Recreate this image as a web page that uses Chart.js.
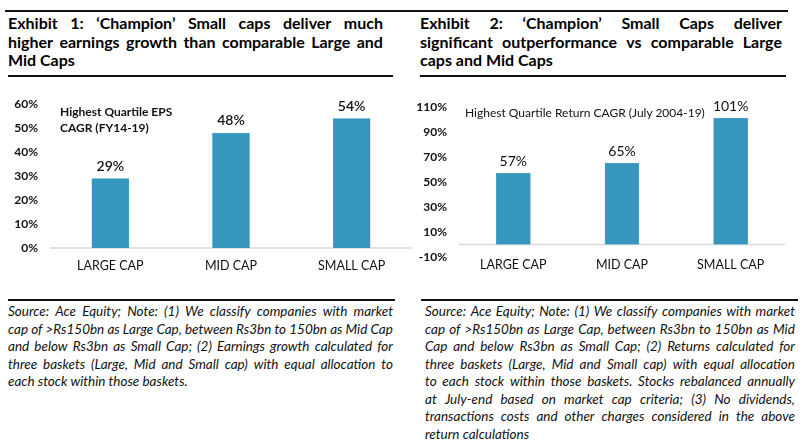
<!DOCTYPE html>
<html>
<head>
<meta charset="utf-8">
<script src="https://cdn.jsdelivr.net/npm/chart.js@4.4.1/dist/chart.umd.min.js"></script>
<style>
  html, body { margin: 0; padding: 0; background: #fff; }
  body { width: 806px; height: 445px; position: relative; overflow: hidden; font-family: Lato, 'Noto Sans', sans-serif; color: #111; }
  .abs { position: absolute; }
  .rule { position: absolute; background: #111; height: 1.5px; }
  .title { font-weight: bold; font-size: 16px; line-height: 18.5px; color: #000; }
  .note { font-style: italic; font-size: 13.5px; line-height: 17.5px; color: #111; }
  .line { display: flex; justify-content: space-between; white-space: pre; }
  .line.last { justify-content: flex-start; }
  .box { position: absolute; }
  .tag { position: absolute; font-size: 12px; line-height: 16px; color: #111; white-space: nowrap; }
</style>
</head>
<body>
<div class="rule" style="left:5px; top:10px; width:783px;"></div>
<div class="rule" style="left:8px; top:75px; width:385px;"></div>
<div class="rule" style="left:420px; top:75px; width:366px;"></div>
<div class="rule" style="left:8px; top:299px; width:387px;"></div>
<div class="rule" style="left:421px; top:299px; width:377px;"></div>

<div id="title1" class="abs title" style="left:8px; top:14px; width:375px;"></div>
<div id="title2" class="abs title" style="left:420px; top:14px; width:362px;"></div>
<div id="note1" class="abs note" style="left:8px; top:303px; width:385px;"></div>
<div id="note2" class="abs note" style="left:425px; top:303px; width:370px;"></div>

<div class="box" style="left:0; top:85px; width:412px; height:195px;"><canvas id="epsChart"></canvas></div>
<div class="box" style="left:403px; top:85px; width:382px; height:195px;"><canvas id="retChart"></canvas></div>

<div class="tag" style="left:60px; top:104px; font-weight:bold;">Highest Quartile EPS<br>CAGR (FY14-19)</div>
<div class="tag" style="left:465px; top:105px;">Highest Quartile Return CAGR (July 2004-19)</div>

<script>
const categories = ['LARGE CAP', 'MID CAP', 'SMALL CAP'];
const epsCagr = [29, 48, 54];
const returnCagr = [57, 65, 101];
const epsAxis = { min: 0, max: 60, step: 10 };
const returnAxis = { min: -10, max: 110, step: 20 };

const title1Lines = [
  'Exhibit 1: \u2018Champion\u2019 Small caps deliver much',
  'higher earnings growth than comparable Large and',
  'Mid Caps'
];
const title2Lines = [
  'Exhibit 2: \u2018Champion\u2019 Small Caps deliver',
  'significant outperformance vs comparable Large',
  'caps and Mid Caps'
];
const note1Lines = [
  'Source: Ace Equity; Note: (1) We classify companies with market',
  'cap of >Rs150bn as Large Cap, between Rs3bn to 150bn as Mid Cap',
  'and below Rs3bn as Small Cap; (2) Earnings growth calculated for',
  'three baskets (Large, Mid and Small cap) with equal allocation to',
  'each stock within those baskets.'
];
const note2Lines = [
  'Source: Ace Equity; Note: (1) We classify companies with market',
  'cap of >Rs150bn as Large Cap, between Rs3bn to 150bn as Mid',
  'Cap and below Rs3bn as Small Cap; (2) Returns calculated for',
  'three baskets (Large, Mid and Small cap) with equal allocation',
  'to each stock within those baskets. Stocks rebalanced annually',
  'at July-end based on market cap criteria; (3) No dividends,',
  'transactions costs and other charges considered in the above',
  'return calculations'
];

// justified text, one flex row per line
function fillLines(el, lines) {
  lines.forEach((text, i) => {
    const row = document.createElement('div');
    const last = i === lines.length - 1;
    row.className = last ? 'line last' : 'line';
    if (last) {
      row.textContent = text;
    } else {
      text.split(' ').forEach((word) => {
        const span = document.createElement('span');
        span.textContent = word;
        row.appendChild(span);
      });
    }
    el.appendChild(row);
  });
}

fillLines(document.getElementById('title1'), title1Lines);
fillLines(document.getElementById('title2'), title2Lines);
fillLines(document.getElementById('note1'), note1Lines);
fillLines(document.getElementById('note2'), note2Lines);

const FONT = 'Lato, "Noto Sans", sans-serif';

const zeroLine = {
  id: 'zeroLine',
  beforeDatasetsDraw(chart) {
    const { ctx, chartArea } = chart;
    const y = chart.scales.y.getPixelForValue(0);
    ctx.save();
    ctx.strokeStyle = '#d9d9d9';
    ctx.lineWidth = 1.5;
    ctx.beginPath();
    ctx.moveTo(chartArea.left, y);
    ctx.lineTo(chartArea.right, y);
    ctx.stroke();
    ctx.restore();
  }
};

const valueLabels = {
  id: 'valueLabels',
  afterDatasetsDraw(chart, args, opts) {
    const { ctx } = chart;
    const meta = chart.getDatasetMeta(0);
    const values = chart.data.datasets[0].data;
    ctx.save();
    ctx.font = opts.font;
    ctx.fillStyle = '#111';
    ctx.textAlign = 'center';
    ctx.textBaseline = 'bottom';
    meta.data.forEach((bar, i) => {
      ctx.fillText(values[i] + '%', bar.x, bar.y - opts.gap);
    });
    ctx.restore();
  }
};

function makeChart(id, values, axis, cfg) {
  return new Chart(document.getElementById(id), {
    type: 'bar',
    data: {
      labels: categories,
      datasets: [{
        data: values,
        backgroundColor: '#3796be',
        borderColor: '#5aaad0',
        borderWidth: 0.5,
        barThickness: cfg.barWidth
      }]
    },
    options: {
      responsive: true,
      maintainAspectRatio: false,
      animation: false,
      layout: { padding: { top: cfg.padTop, left: 0, right: 0, bottom: 0 } },
      plugins: {
        legend: { display: false },
        tooltip: { enabled: false },
        valueLabels: { font: cfg.labelFont, gap: 5 }
      },
      scales: {
        x: {
          grid: { display: false, drawTicks: false },
          border: { display: false },
          ticks: { color: '#111', padding: cfg.xPad, font: { family: FONT, size: 12.5 } },
          afterFit: (scale) => { scale.height = cfg.xHeight; }
        },
        y: {
          min: axis.min,
          max: axis.max,
          grid: { display: false, drawTicks: false },
          border: { display: false },
          ticks: {
            stepSize: axis.step,
            padding: 12,
            color: '#111',
            font: { family: FONT, size: 12, weight: 'bold' },
            callback: (v) => v + '%'
          },
          afterFit: (scale) => { scale.width = cfg.yWidth; }
        }
      }
    },
    plugins: [zeroLine, valueLabels]
  });
}

makeChart('epsChart', epsCagr, epsAxis, {
  barWidth: 37, padTop: 12, xHeight: 32, xPad: 10, yWidth: 50,
  labelFont: '600 14px ' + FONT
});
makeChart('retChart', returnCagr, returnAxis, {
  barWidth: 34, padTop: 22, xHeight: 23, xPad: 0, yWidth: 56,
  labelFont: '14px ' + FONT
});
</script>
</body>
</html>
